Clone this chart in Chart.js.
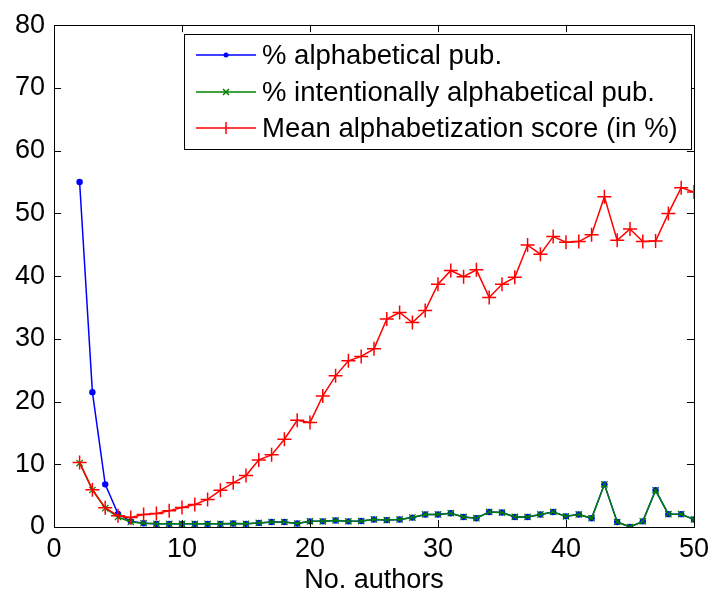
<!DOCTYPE html>
<html>
<head>
<meta charset="utf-8">
<script src="https://cdn.jsdelivr.net/npm/chart.js@4.4.0/dist/chart.umd.min.js"></script>
<style>
  html, body { margin: 0; padding: 0; background: #fff; }
  #wrap { width: 715px; height: 594px; }
</style>
</head>
<body>
<div id="wrap"><canvas id="myChart" width="715" height="594"></canvas></div>
<script>
// number of authors
let authors = [2, 3, 4, 5, 6, 7, 8, 9, 10, 11, 12, 13, 14, 15, 16, 17, 18, 19, 20, 21, 22, 23, 24, 25, 26,
  27, 28, 29, 30, 31, 32, 33, 34, 35, 36, 37, 38, 39, 40, 41, 42, 43, 44, 45, 46, 47, 48, 49, 50];

let pctAlpha = [55.0, 21.5, 6.8, 2.1, 0.9, 0.6, 0.5, 0.5, 0.5, 0.5, 0.5, 0.5, 0.55, 0.5, 0.65, 0.8, 0.8, 0.55,
  0.9, 0.9, 1.05, 0.9, 0.95, 1.2, 1.1, 1.2, 1.5, 2.0, 2.0, 2.2, 1.6, 1.4, 2.4, 2.3, 1.6, 1.6, 2.0, 2.4, 1.7,
  2.0, 1.4, 6.8, 0.8, 0.0, 0.9, 5.85, 2.05, 2.05, 1.2];

let pctIntent = [10.2, 5.9, 3.0, 1.6, 0.8, 0.6, 0.5, 0.5, 0.5, 0.5, 0.5, 0.5, 0.55, 0.5, 0.65, 0.8, 0.8, 0.55,
  0.9, 0.9, 1.05, 0.9, 0.95, 1.2, 1.1, 1.2, 1.5, 2.0, 2.0, 2.2, 1.6, 1.4, 2.4, 2.3, 1.6, 1.6, 2.0, 2.4, 1.7,
  2.0, 1.4, 6.8, 0.8, 0.0, 0.9, 5.85, 2.05, 2.05, 1.2];

let meanScore = [10.3, 5.95, 3.05, 1.8, 1.5, 2.0, 2.15, 2.6, 3.1, 3.6, 4.4, 5.85, 7.05, 8.2, 10.7, 11.5, 14.0,
  17.0, 16.65, 20.9, 24.1, 26.5, 27.2, 28.4, 33.15, 34.2, 32.6, 34.5, 38.7, 40.9, 39.9, 41.0, 36.6, 38.7, 39.8,
  44.95, 43.5, 46.3, 45.4, 45.5, 46.6, 52.65, 45.7, 47.5, 45.5, 45.6, 50.0, 54.1, 53.4];

let labels = ["% alphabetical pub.", "% intentionally alphabetical pub.", "Mean alphabetization score (in %)"];
let colors = ['#0000ff', '#008000', '#ff0000'];
let xTicks = [0, 10, 20, 30, 40, 50];
let yTicks = [0, 10, 20, 30, 40, 50, 60, 70, 80];

function pts(vals) {
  let out = [];
  for (var i = 0; i < authors.length; i++) {
    out[i] = { x: authors[i], y: vals[i] };
  }
  return out;
}

// box + inward ticks, matlab style
let frame = {
  id: 'frame',
  afterDatasetsDraw: function (chart) {
    let c = chart.ctx, a = chart.chartArea;
    let xs = chart.scales.x, ys = chart.scales.y;
    let tl = 7;
    c.save();
    c.strokeStyle = '#000';
    c.lineWidth = 1;
    c.beginPath();
    xTicks.forEach(function (v) {
      let px = Math.round(xs.getPixelForValue(v)) + 0.5;
      c.moveTo(px, a.bottom); c.lineTo(px, a.bottom - tl);
      c.moveTo(px, a.top); c.lineTo(px, a.top + tl);
    });
    yTicks.forEach(function (v) {
      let py = Math.round(ys.getPixelForValue(v)) + 0.5;
      c.moveTo(a.left, py); c.lineTo(a.left + tl, py);
      c.moveTo(a.right, py); c.lineTo(a.right - tl, py);
    });
    c.stroke();
    c.strokeRect(Math.round(a.left) + 0.5, Math.round(a.top) + 0.5,
      Math.round(a.right - a.left), Math.round(a.bottom - a.top));
    c.restore();
  }
};

// legend box with line + marker samples
let legendBox = {
  id: 'legendBox',
  afterDraw: function (chart) {
    let c = chart.ctx;
    let bx = 184, by = 34, bw = 507, bh = 115;
    let rows = [55, 92, 128];
    c.save();
    c.fillStyle = '#fff';
    c.fillRect(bx, by, bw, bh);
    c.strokeStyle = '#000';
    c.lineWidth = 1;
    c.strokeRect(bx + 0.5, by + 0.5, bw, bh);
    c.font = '27.5px "Liberation Sans", Arial, sans-serif';
    c.textBaseline = 'middle';
    chart.data.datasets.forEach(function (ds, i) {
      let y = rows[i];
      c.strokeStyle = ds.borderColor;
      c.lineWidth = 1.5;
      c.beginPath();
      c.moveTo(196, y); c.lineTo(256, y);
      c.stroke();
      let mx = 226;
      c.beginPath();
      if (i == 0) {
        c.fillStyle = ds.borderColor;
        c.arc(mx, y, 2.5, 0, Math.PI * 2);
        c.fill();
      } else if (i == 1) {
        c.moveTo(mx - 3, y - 3); c.lineTo(mx + 3, y + 3);
        c.moveTo(mx - 3, y + 3); c.lineTo(mx + 3, y - 3);
        c.stroke();
      } else {
        c.moveTo(mx, y - 6); c.lineTo(mx, y + 6);
        c.stroke();
      }
      c.fillStyle = '#000';
      c.fillText(ds.label, 262, y + 1);
    });
    c.restore();
  }
};

let ctx = document.getElementById('myChart').getContext('2d');
let chart = new Chart(ctx, {
  type: 'line',
  data: {
    datasets: [
      {
        label: labels[0], data: pts(pctAlpha), borderColor: colors[0], backgroundColor: colors[0],
        borderWidth: 1.5, pointStyle: 'circle', pointRadius: 3.2, pointBorderWidth: 0, order: 3
      },
      {
        label: labels[1], data: pts(pctIntent), borderColor: colors[1], backgroundColor: colors[1],
        borderWidth: 1.5, pointStyle: 'crossRot', pointRadius: 4.5, pointBorderWidth: 1.2, order: 2
      },
      {
        label: labels[2], data: pts(meanScore), borderColor: colors[2], backgroundColor: colors[2],
        borderWidth: 1.5, pointStyle: 'cross', pointRadius: 7, pointBorderWidth: 1.5, order: 1
      }
    ]
  },
  options: {
    responsive: false,
    animation: false,
    events: [],
    layout: { padding: { top: 23, right: 15, left: 0, bottom: 0 } },
    plugins: {
      legend: { display: false },
      tooltip: { enabled: false }
    },
    scales: {
      x: {
        type: 'linear', min: 0, max: 50,
        afterBuildTicks: function (s) { s.ticks = xTicks.map(function (v) { return { value: v }; }); },
        afterFit: function (s) { s.height = 67; },
        grid: { display: false, drawTicks: false },
        border: { display: false },
        ticks: { color: '#000', padding: 6, font: { family: '"Liberation Sans", Arial', size: 27 } },
        title: {
          display: true, text: 'No. authors', color: '#000',
          padding: { top: 0, bottom: 0 },
          font: { family: '"Liberation Sans", Arial', size: 27, lineHeight: 1 }
        }
      },
      y: {
        min: 0, max: 80,
        afterBuildTicks: function (s) { s.ticks = yTicks.map(function (v) { return { value: v }; }); },
        afterFit: function (s) { s.width = 54; },
        grid: { display: false, drawTicks: false },
        border: { display: false },
        ticks: { color: '#000', padding: 9, font: { family: '"Liberation Sans", Arial', size: 27 } }
      }
    }
  },
  plugins: [frame, legendBox]
});
</script>
</body>
</html>
